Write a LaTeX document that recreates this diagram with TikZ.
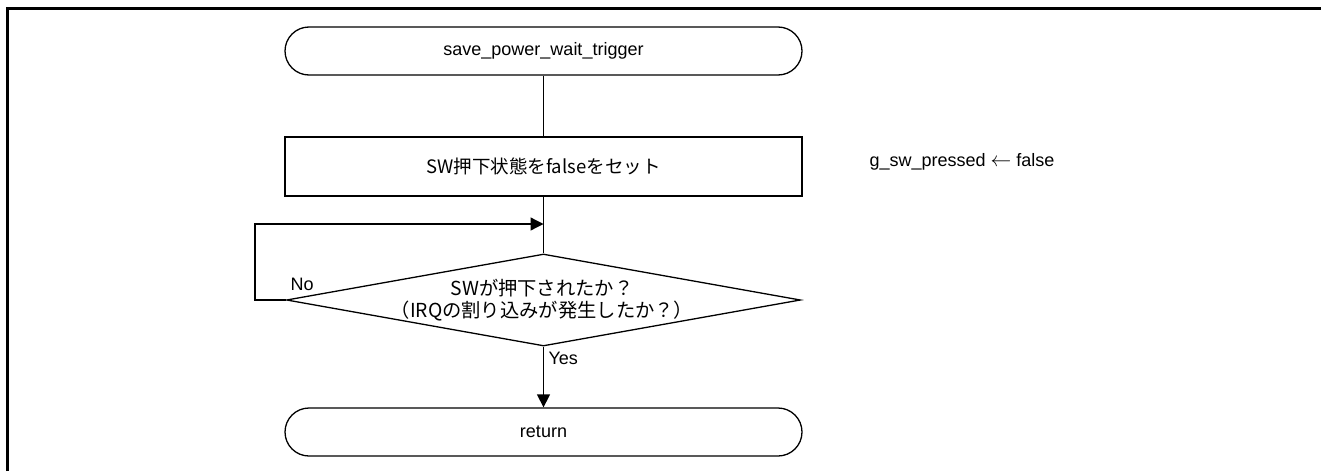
\documentclass[tikz,border=0pt]{standalone}
\usepackage{fontspec}
\setmainfont{Liberation Sans}
\newfontfamily\jpfont{Noto Sans CJK JP}
\usetikzlibrary{shapes.geometric,arrows.meta}
\tikzset{
  x=1pt,y=-1pt,
  every node/.style={font=\fontsize{18}{22}\selectfont},
  flowline/.style={line width=1.3pt,black},
  arr/.style={flowline,-{Triangle[length=13pt,width=13pt]}},
  termbox/.style={draw,line width=1.3pt,rectangle,rounded corners=24pt,minimum width=517pt,minimum height=48pt,inner sep=0pt},
  procbox/.style={draw,line width=1.3pt,rectangle,minimum width=517pt,minimum height=59pt,inner sep=0pt},
  decbox/.style={draw,line width=1.3pt,diamond,aspect=5.7,minimum width=514pt,minimum height=92pt,inner sep=0pt},
  frameline/.style={line width=3pt,black}
}
\begin{document}
\begin{tikzpicture}
\useasboundingbox (0,0) rectangle (1321,471);
% frame
\coordinate (fa) at (7.5,471);
\coordinate (fb) at (7.5,8);
\coordinate (fc) at (1321,8);
\draw[frameline] (fa) -- (fb) -- (fc);
% nodes
\node[termbox] (start) at (543.5,51) {save\_power\_wait\_trigger};
\node[procbox,font=\jpfont\fontsize{18.5}{22}\selectfont] (proc) at (543.5,166.5) {SW押下状態をfalseをセット};
\node[decbox] (dec) at (543.5,300) {};
\node[align=center,font=\jpfont\fontsize{19.3}{22}\selectfont] (dectext) at (542,300) {SWが押下されたか？\\（IRQの割り込みが発生したか？）};
\node[termbox] (ret) at (543.5,432) {return};
\node[anchor=west] (note) at (866,162) {g\_sw\_pressed {\fontsize{20}{22}\selectfont$\leftarrow$} false};
% connectors
\coordinate (merge) at (543.5,224);
\coordinate (loopcorner) at (255,300);
\draw[flowline] (start.south) -- (proc.north);
\draw[flowline] (proc.south) -- (dec.north);
\draw[arr] (dec.west) -- (loopcorner) |- (merge);
\draw[arr] (dec.south) -- (ret.north);
% labels
\node[anchor=west] (nolbl) at (287,284) {No};
\node[anchor=west] (yeslbl) at (545,358) {Yes};
\end{tikzpicture}
\end{document}
